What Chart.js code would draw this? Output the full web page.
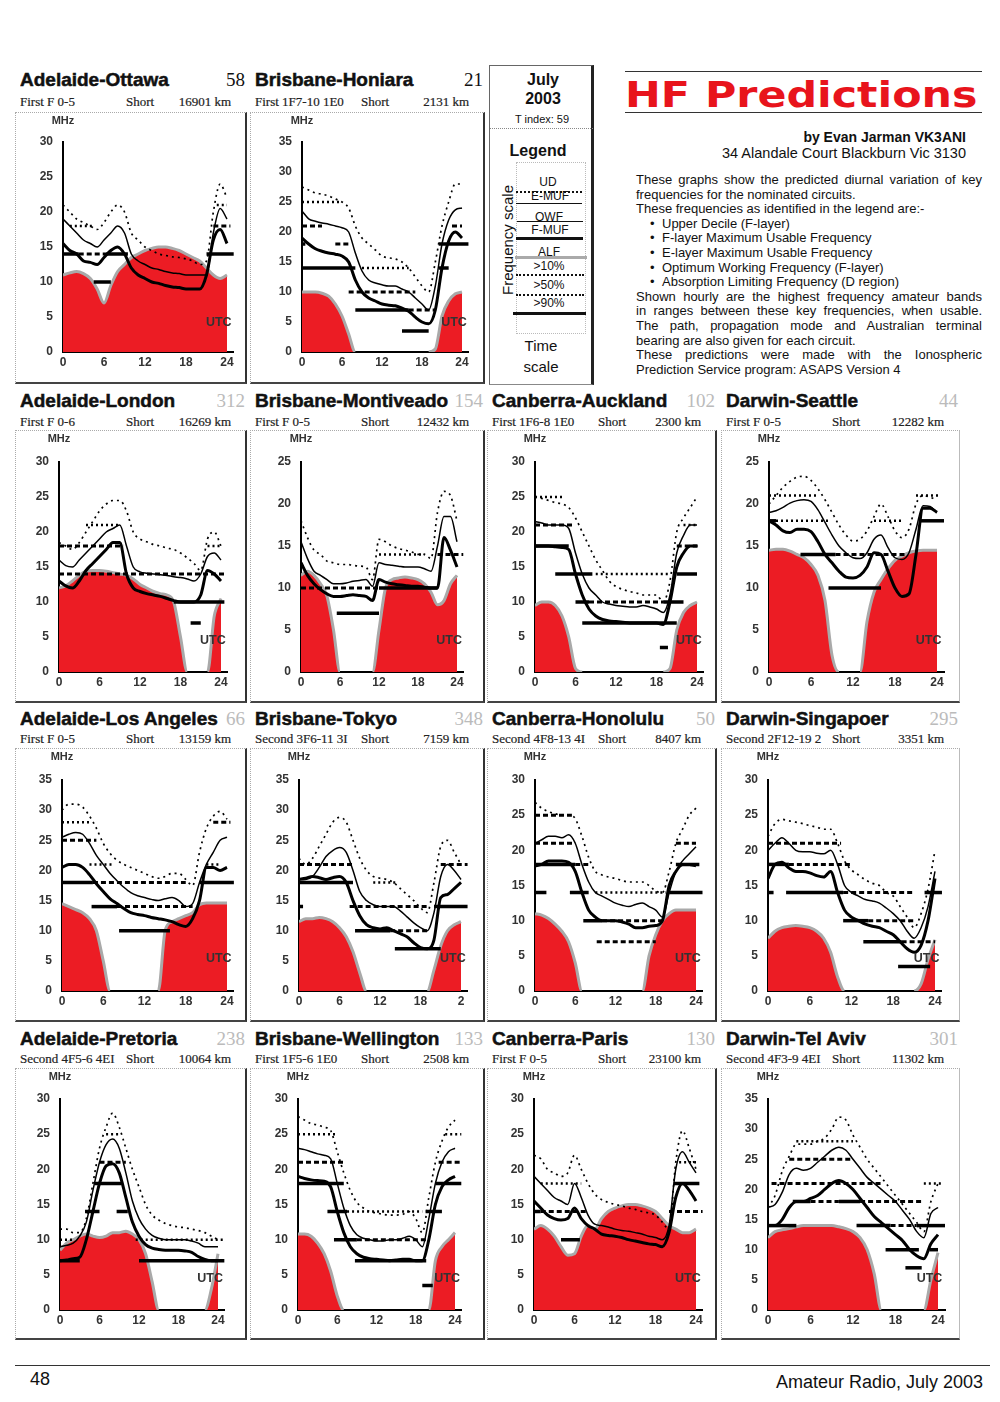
<!DOCTYPE html>
<html><head><meta charset="utf-8">
<script src="https://cdn.jsdelivr.net/npm/chart.js@4.4.1/dist/chart.umd.min.js"></script>
<style>
html,body{margin:0;padding:0;background:#fff;}
body{width:1000px;height:1402px;position:relative;overflow:hidden;font-family:"Liberation Sans",Arial,sans-serif;color:#111;}
.abs{position:absolute;white-space:nowrap;}
.title{font-weight:bold;font-size:19px;line-height:22px;height:22px;overflow:hidden;color:#111;-webkit-text-stroke:0.5px #111;}
.sub{font-family:"Liberation Serif","Times New Roman",serif;font-size:13px;line-height:15px;color:#222;-webkit-text-stroke:0.2px #222;}
.num{font-family:"Liberation Serif",serif;font-size:19px;line-height:22px;text-align:right;}
.box{box-sizing:border-box;border-left:1px dotted #aaa;border-top:1px dotted #aaa;border-right:2px solid #333;border-bottom:2px solid #444;pointer-events:none;z-index:3;}
.mhz{font-weight:bold;font-size:11px;line-height:12px;color:#333;transform:translateX(-50%);z-index:4;}
.utc{font-weight:bold;font-size:12.5px;line-height:14px;color:#333;transform:translate(-50%,-50%);z-index:4;}
.para{font-size:13px;line-height:14.6px;height:14.6px;width:346px;left:636px;color:#111;}
</style></head>
<body>
<script>
// ---------- category axis & ticks ----------
const HOURS = [0,1,2,3,4,5,6,7,8,9,10,11,12,13,14,15,16,17,18,19,20,21,22,23,24];
const X_TICKS = [0,6,12,18,24];
const X_TICK_LABELS = ['0','6','12','18','24'];
const X_TICK_LABELS_TOKYO = ['0','6','12','18','2'];

// ---------- Adelaide-Ottawa ----------
const AO_ALF = [11,11.3,11.5,11.2,10.5,9,7,9.5,11.5,12.5,13.5,14,14.5,14.8,15,15,14.8,14.5,14,13.5,13,12,11,10.5,11];
const AO_UD  = [21,20,19,18.5,18,17.5,18.5,20,21,20,17,16,15,14.5,14,13.8,13.6,13.5,13.3,13,12.5,13,20,24,22];
const AO_MUF = [19,18,17,16,15.5,15,16,17,18,17,14,13,12.5,12,11.8,11.5,11.3,11.2,11,11,11,11,17,20.5,19];
const AO_OWF = [15.5,14.5,14,13,12.8,12.5,13.5,14.5,15,14,12,11,10.5,10,9.8,9.5,9.3,9.2,9,9,9,11,16,17.5,15.5];
const AO_BANDS = [[14,0,2.3,'s'],[14,2.3,6.3,'d'],[14,6.3,9.5,'s'],[14,21,25,'s'],[10,4.5,7,'s'],[18,1,4.5,'o'],[18,22,24.5,'d'],[21,22.5,24,'o']];

// ---------- Brisbane-Honiara ----------
const BH_ALF = [10,10,10,9.8,9.3,8,6,3,0,0,0,0,0,0,0,0,0,0,0,0,0.5,6,8.5,9.7,10];
const BH_UD  = [27.5,27,26.5,26.3,26,25.5,25,24,21,19,18,17,16,15.7,15.5,15,14,12.5,11,10,15,21,25,28,28];
const BH_MUF = [23.5,22.2,21.8,21.5,21.3,21,20.7,20,16.5,13.5,12,11.5,11.2,11,11,10.5,10,9,8,7,11,18,22,23.7,24];
const BH_OWF = [19,18,17.2,16.8,16.5,16.3,16,15,12,10,9,8.5,8,7.8,7.7,7.3,6.8,5.8,5,4.7,7,14,18.5,20,19];
const BH_BANDS = [[25,0,6,'o'],[21,0,3,'d'],[21,22.5,24,'d'],[18,0,0.5,'s'],[18,5,7,'d'],[18,20.5,25,'s'],[14,0,8,'s'],[14,9,16,'o'],[14,20.5,22,'s'],[10,7,17,'d'],[7,8,16,'s'],[7,16,20,'d'],[3.5,15,19,'s']];

// ---------- Adelaide-London ----------
const AL_ALF = [12,12.3,13,13.8,14.4,14.5,14.5,14.4,14.2,14,13.8,13.3,12.5,12,11.5,11.2,11,10,5,0,0,0,0,8,10.5];
const AL_UD  = [18.5,18,17.5,18.5,20,21.5,23,24,24.5,24.5,23,20,19,18.6,18.2,18,17.7,17.5,17,16.3,15.5,14.5,19,20,18];
const AL_MUF = [16,15.2,15,16,17,18,19,20,20.5,21,18,15,14.3,14.1,14,13.9,13.8,13.6,13.5,13.3,13,14,16.5,17,16];
const AL_OWF = [13,12.3,12,13,14.5,15.5,16.5,17.5,18.5,18.5,14,12,11.5,11.2,11,10.8,10.5,10.2,10,10,10,11,14.5,14,13];
const AL_BANDS = [[21,4,9,'o'],[18,0,9.5,'d'],[18,22,24,'o'],[14,0,24.5,'d'],[10,17,24.5,'s'],[7,19.5,21,'s']];

// ---------- Brisbane-Montiveado ----------
const BM_ALF = [11.5,12,11.5,10.5,9,5,0,0,0,0,0,0,5,10,11,11.2,11.3,11.2,11,10.5,9.5,8,8.5,10.5,11.5];
const BM_UD  = [18,16,14.5,14,13.2,13,12.8,12.8,12.7,12.6,12.5,11,15.8,15.5,15,14.7,14.5,14.3,14,14,13.5,19,21.5,21,18];
const BM_MUF = [15.5,13.5,12,11.5,11,10.5,10.5,10.6,10.8,10.9,11,10.2,13,12.8,12.7,12.6,12.5,12.5,12.5,12.3,12,15,18.5,18.5,15.5];
const BM_OWF = [13,11.5,10.5,9.8,9.3,9,9,9.1,9.2,9.1,9,8.5,11,10.7,10.5,10.4,10.3,10.2,10.2,10.1,10,10,16,14.5,12.5];
const BM_BANDS = [[14,12,19,'o'],[14,21,25,'d'],[10,0,12,'d'],[10,12,21,'s'],[7,5.5,12,'s']];

// ---------- Canberra-Auckland ----------
const CA_ALF = [9.5,10,10,9.5,8,5,0.5,0,0,0,0,0,0,0,0,0,0,0,0,0,0.5,6,8.5,9.5,10];
const CA_UD  = [25,24.8,24.5,24.2,24,23.5,22,20,18,16,14.5,13,12.2,11.8,11.5,11.3,11,11,11,10,13,20,22,23.5,25];
const CA_MUF = [21.5,21.3,21,21,21,20.5,17,14,12,11,10,9.7,9.5,9.4,9.3,9.3,9.5,9.3,9,8.5,11,17,19.5,21,21];
const CA_OWF = [18,18,18,17.9,17.8,17.5,14,11,9,8,7.5,7.3,7.2,7.1,7,7,7,7,7,6.8,10,15,17,18,18];
const CA_BANDS = [[25,0,4,'o'],[21,0,5.5,'d'],[21,22,24,'o'],[18,0,5,'s'],[18,21,24.5,'d'],[14,3,8.5,'s'],[14,9,20,'o'],[14,21,24,'s'],[10,6,8,'s'],[10,8,19,'d'],[10,19,22,'s'],[7,7,21,'s'],[3.5,18.5,19.7,'s']];

// ---------- Darwin-Seattle ----------
const DS_ALF = [14.5,14.6,14.6,14.4,14,13.6,12.8,11.5,8.5,2,0,0,0,0,6,9.5,11,12.3,13.3,13.8,14.2,14.4,14.5,14.5,14.5];
const DS_UD  = [20,21,22,22.7,23.2,23.3,22.8,21.8,20.5,19,17.5,16.3,15.6,15.8,16.8,18.5,20,18.5,16.8,16,17,20,21,20.8,20.5];
const DS_MUF = [19,19.2,19.6,20.1,20.4,20.5,20.3,19.3,17.8,16.3,15,14.2,13.6,13.5,14.2,15.8,16.3,14.8,13.6,13.4,14.2,17,19.8,19.7,19];
const DS_OWF = [18,17.5,16.8,16.6,17,17,16.7,15.5,14,13,12,11.3,11.2,11.5,12.5,14.2,14,12,10,9,9.3,14,19.5,19.5,19];
const DS_BANDS = [[21,0,7,'o'],[21,21,24.5,'o'],[18,0,1,'s'],[18,1,8.5,'o'],[18,15,19,'o'],[18,21.5,25,'s'],[14,4.5,9.5,'s'],[14,9.5,19.5,'d'],[10,8.5,16,'s']];

// ---------- Adelaide-Los Angeles ----------
const LA_ALF = [14.5,14,13.5,13,12,10,5,0,0,0,0,0,0,0,0,10,11.5,12,12.5,13,14.3,14.6,14.6,14.6,14.6];
const LA_UD  = [30,31,31,30.5,29,27,24.5,22.8,21.7,21,20.5,20,19.5,19,18.7,19,19.5,19.5,18.5,17.5,23,27,29,29.8,28.5];
const LA_MUF = [25.5,26,26.3,26,24.5,22.5,21,19.5,18.3,17.2,16.3,15.8,15.5,15.2,15,15.3,15.5,15,14,14.5,18,21,23,25,25.5];
const LA_OWF = [20.5,21,21,20.5,19.3,17.8,16.5,15.3,14.5,13.7,13,12.7,12.5,12.2,12,11.8,11.5,11,10.7,12,15,20.5,20.5,20,20.5];
const LA_BANDS = [[28,0,4,'o'],[28,22,24.5,'d'],[25,0,5,'d'],[21,4,7.5,'o'],[21,21,23,'o'],[18,0,4.5,'s'],[18,4.5,18,'d'],[18,20,25,'s'],[14,4.3,8,'s'],[14,8,19,'d'],[10,8.3,15.7,'s']];

// ---------- Brisbane-Tokyo ----------
const BT_ALF = [11.5,12,12,12.2,12,11.5,10.5,9,6.5,3,0,0,0,0,0,0,0,0,0,0,3.5,7.5,10,11,11.5];
const BT_UD  = [22,21,22,24,26,28,28.8,28,25,22,20,19,18.7,18.5,18,17,16,15,13.8,13,18,24,25,23,21];
const BT_MUF = [18.5,18.5,19,20.5,22.3,23.3,23.8,23,20,16.5,15,14.3,14,14,14,13.3,12.3,11.3,10.5,10,13,19,21,20,18.5];
const BT_OWF = [18.5,18.7,19,18.8,18.5,18.8,19,18,15,12.5,11,10.5,10.3,10.5,10,9.5,9,8,7.2,7,8.5,15.5,16,17,18];
const BT_BANDS = [[21,0,8,'d'],[21,21,25,'d'],[18,0,8,'s'],[18,11,14.5,'o'],[14,0,0.6,'s'],[14,7.5,19,'d'],[14,20,25,'s'],[10,8.3,13.5,'s'],[10,13.5,19,'d'],[7,14.2,21,'s']];

// ---------- Canberra-Honolulu ----------
const CH_ALF = [11,10.8,10.3,9.5,8.5,7,4,0,0,0,0,0,0,0,0,0,0,5,8,10,11,11.5,11.5,11.5,11.5];
const CH_UD  = [26.8,26,25.5,25.2,25,25,24.5,22,19,17,16.5,16.2,16,15.7,15.5,15.5,15.5,15,14.2,14,17,21,23,25,26];
const CH_MUF = [21,21.5,22,22,21.8,22.2,21,18,15.5,14,13.5,13,12.5,12.2,12,12.3,12.5,12,11.5,10.5,14,17,18.5,19.5,20.5];
const CH_OWF = [17.8,18,18.5,18.5,18.5,18.3,17,14,11.5,10.5,10,10,10,9.8,9.5,9,9,9.2,9.3,10,15,17,18,18,17.8];
const CH_BANDS = [[25,0,5.5,'d'],[21,0,6,'d'],[21,21,24,'d'],[18,0,6,'s'],[18,6,8,'d'],[18,21,24.5,'s'],[14,0,1.7,'s'],[14,5.2,8,'s'],[14,9,19.5,'o'],[14,20,25,'s'],[10,7.2,10,'s'],[10,10,19,'d'],[7,9.2,18,'d']];

// ---------- Darwin-Singapoer ----------
const SG_ALF = [7.5,8.5,9,9.2,9.3,9.2,9,8.5,7.5,5.5,2,0,0,0,0,0,0,0,0,0,0,0,1,4.5,7.3];
const SG_UD  = [22,23.8,24.4,24.2,24,23.8,23.5,23.3,23,23,21,18.5,17.2,16.5,15.8,15.3,15,14,13.5,12,10.5,9,11,14.5,20];
const SG_MUF = [20,21,21.8,21,20,19.8,19.8,19.6,19.5,20,18,15,14,13.5,13,12.8,12.5,11.8,11,10,8.5,7.5,9,12,17];
const SG_OWF = [16,18,18.3,17.5,17,17,16.8,16.4,16.2,17,14,11.5,10.5,10,9.5,9.2,9,8.5,8,7,6,5.5,6.5,10,16];
const SG_BANDS = [[21,0,10.5,'d'],[18,0,3,'s'],[18,3,12,'d'],[14,0,0.8,'s'],[14,2.6,10.8,'s'],[14,10.8,21,'d'],[14,22.5,25,'s'],[10,10.8,14.4,'s'],[10,14.4,21,'d'],[7,13.7,19.2,'s'],[7,19.2,24,'d'],[3.5,18.7,23.3,'s']];

// ---------- Adelaide-Pretoria ----------
const AP_ALF = [8.5,9.5,10,10.5,10.8,10.5,10.3,10.5,11,11,11.2,10.8,10,8,4,0,0,0,0,0,0,0,0,3,8];
const AP_UD  = [11.5,11.5,11,11,13,18,23,26,28,26,23,20,17.5,15,13.5,12.8,12.3,12,11.8,11.7,11.5,11.3,11,10.5,10];
const AP_MUF = [9,9.2,9.5,10.5,12.5,17,21,23.5,24.3,23,19.5,15.5,13,11.5,10.6,10.2,10,10,10,10,9.8,9.5,9,9,9];
const AP_OWF = [7,7.1,7.3,7.5,10,14,18,20.5,20.8,19.5,16,12.5,10.5,9.3,8.8,8.6,8.5,8.5,8.5,8.4,8.2,7.6,7.2,7,7];
const AP_BANDS = [[25,7,9,'o'],[21,6,10,'d'],[18,5.3,9.3,'s'],[14,3.8,6,'s'],[14,8.6,10.3,'s'],[10,0,2,'o'],[10,11.5,25,'o'],[7,0,3,'s'],[7,12,25,'s']];

// ---------- Brisbane-Wellington ----------
const BW_ALF = [10.8,10.8,10.5,9.5,8,5.5,2,0,0,0,0,0,0,0,0,0,0,0,0,0,0,7,9,10,11];
const BW_UD  = [27.5,27,26.5,26.3,26,25.5,22.5,19.5,17,15.3,14.5,14,13.8,13.6,13.5,13.5,13.6,14,13,11,16,21,24,26,27];
const BW_MUF = [23,22.8,22.5,22.2,22,21.5,18,14.5,12,10.7,10.2,10,9.8,9.8,10,10,10.2,10.5,10,9,13,18,21,22.5,23];
const BW_OWF = [19,18.7,18.5,18.4,18.3,17.5,14,11,9,8,7.5,7.3,7.2,7.1,7,7.1,7.2,7.2,7,7,10,15,17.5,18.5,19];
const BW_BANDS = [[25,0,6,'o'],[25,22.5,25,'o'],[21,0,7,'d'],[21,21.5,25,'d'],[18,0,7,'s'],[18,21,25,'s'],[14,4.5,7.5,'s'],[14,7.5,19,'o'],[14,19.5,22,'s'],[10,5.5,9,'s'],[10,9,20,'d'],[7,8.7,19.6,'s'],[3.5,19,20.6,'s']];

// ---------- Canberra-Paris ----------
const CP_ALF = [11.5,12,11.5,10.5,9,7.8,8,10.5,12,11.5,13,14,14.5,14.8,15,15,14.8,14.5,14,13,12,11.5,11,11,11.5];
const CP_UD  = [22,21.5,20,19.5,19,19.5,22,20,18,16.5,15.7,15.3,15,14.8,14.5,14.3,14,13.8,13.5,12.5,11.5,21,25.5,23,20];
const CP_MUF = [19,18,17,16,15.5,15,18,16,13.5,12.2,12,11.8,11.5,11.3,11.2,11,10.8,10.5,10.3,10,12,20,22.5,21,19.5];
const CP_OWF = [15.5,14.5,13.5,13,12.8,13,14.5,13,12,11.5,10.8,10.6,10.5,10.3,10,9.8,9.6,9.4,9.3,9,11,16,18,17,15.5];
const CP_BANDS = [[21,21.5,24,'o'],[18,1,7,'o'],[18,20.7,24.5,'s'],[14,0,1,'s'],[14,1,8,'d'],[14,20,25,'d'],[10,4,6.8,'s']];

// ---------- Darwin-Tel Aviv ----------
const TA_ALF = [12,13,13.3,13.5,13.8,14,14,14,14,14,13.8,13.5,13,12,10,6,0,0,0,0,0,0,0,5,9.5];
const TA_UD  = [17,19,23,25.5,27.5,27.5,27.5,28,28.5,30,32,31.5,29,27,25,23.5,22,20.5,19,17.5,16,14.5,13,18,21];
const TA_MUF = [17,17.5,19.5,22.5,23.5,23.2,23.5,24.5,25.5,26.5,27,26.5,25,23.5,22,21,20,19,18,16.5,15,13,12,16,17];
const TA_OWF = [14,14,15,17,18,18,18.5,19,20,21,21.5,21,20,18.5,17,15.5,14.5,13.5,12.5,11.5,10,9,8.5,11,12.5];
const TA_BANDS = [[28,4,12,'o'],[25,3,12,'d'],[21,0.5,16,'d'],[21,22,24.5,'o'],[18,3.5,6,'s'],[18,6,10,'d'],[18,10,13,'s'],[18,13,22,'d'],[14,0,4,'s'],[14,12.5,17.3,'s'],[14,17.3,21,'d'],[14,21,25,'s'],[10,16.6,21.3,'s'],[10,22.8,24,'s'],[7,19.4,21.7,'s']];

// ---------- panel text ----------
const TITLES = ['Adelaide-Ottawa','Brisbane-Honiara','Adelaide-London','Brisbane-Montiveado','Canberra-Auckland','Darwin-Seattle','Adelaide-Los Angeles','Brisbane-Tokyo','Canberra-Honolulu','Darwin-Singapoer','Adelaide-Pretoria','Brisbane-Wellington','Canberra-Paris','Darwin-Tel Aviv'];
const MODES = ['First F 0-5','First 1F7-10 1E0','First F 0-6','First F 0-5','First 1F6-8 1E0','First F 0-5','First F 0-5','Second 3F6-11 3I','Second 4F8-13 4I','Second 2F12-19 2','Second 4F5-6 4EI','First 1F5-6 1E0','First F 0-5','Second 4F3-9 4EI'];
const DISTANCES = ['16901 km','2131 km','16269 km','12432 km','2300 km','12282 km','13159 km','7159 km','8407 km','3351 km','10064 km','2508 km','23100 km','11302 km'];
const BEARINGS = ['58','21','312','154','102','44','66','348','50','295','238','133','130','301'];
const Y_MAX = [30,35,30,25,30,25,35,35,30,30,30,30,30,35];
const SERIES = [
  [AO_ALF,AO_UD,AO_MUF,AO_OWF,AO_BANDS],[BH_ALF,BH_UD,BH_MUF,BH_OWF,BH_BANDS],
  [AL_ALF,AL_UD,AL_MUF,AL_OWF,AL_BANDS],[BM_ALF,BM_UD,BM_MUF,BM_OWF,BM_BANDS],
  [CA_ALF,CA_UD,CA_MUF,CA_OWF,CA_BANDS],[DS_ALF,DS_UD,DS_MUF,DS_OWF,DS_BANDS],
  [LA_ALF,LA_UD,LA_MUF,LA_OWF,LA_BANDS],[BT_ALF,BT_UD,BT_MUF,BT_OWF,BT_BANDS],
  [CH_ALF,CH_UD,CH_MUF,CH_OWF,CH_BANDS],[SG_ALF,SG_UD,SG_MUF,SG_OWF,SG_BANDS],
  [AP_ALF,AP_UD,AP_MUF,AP_OWF,AP_BANDS],[BW_ALF,BW_UD,BW_MUF,BW_OWF,BW_BANDS],
  [CP_ALF,CP_UD,CP_MUF,CP_OWF,CP_BANDS],[TA_ALF,TA_UD,TA_MUF,TA_OWF,TA_BANDS]
];

// ---------- layout (positions only) ----------
const COL_LEFT = [15,250,487,721], COL_W = [232,235,230,239];
const ROW_TOP = [112,430,748,1068], BOX_H = [272,273,274,272];
const TITLE_Y = [80,401,719,1039], SUB_Y = [101,421,738,1058];
const PLOT_TOP = [30,32,32,31], PLOT_BOT = [240,242,243,242];
const PANEL_POS = [[0,0],[0,1],[1,0],[1,1],[1,2],[1,3],[2,0],[2,1],[2,2],[2,3],[3,0],[3,1],[3,2],[3,3]];
const AXIS_X = [63,302,59,301,535,769,62,299,535,768,60,298,534,768];
const X24 = [227,462,221,457,697,937,227,461,696,935,218,455,696,938];
const X_MAX = 25;

function el(tag, cls, style, text){
  const e = document.createElement(tag);
  if (cls) e.className = cls;
  Object.assign(e.style, style);
  if (text !== undefined) e.textContent = text;
  document.body.appendChild(e);
  return e;
}
const px = v => v + 'px';
const toPts = arr => HOURS.map((h,k) => ({x:h, y:arr[k]}));
const BAND_STYLE = {s:{w:3.5,dash:[]}, d:{w:3,dash:[5,3]}, o:{w:2.5,dash:[2,3]}};

function buildPanel(i){
  const [row,col] = PANEL_POS[i];
  const left = COL_LEFT[col], top = ROW_TOP[row], w = COL_W[col], h = BOX_H[row];
  const axisX = AXIS_X[i], x24 = X24[i];
  const yAxisW = axisX - left;
  const areaW = (x24 - axisX) * X_MAX / 24;
  const padR = w - yAxisW - areaW;
  const xAxisH = 20;
  const padB = h - PLOT_BOT[row] - xAxisH;

  // headings
  el('div','abs title',{left:px(left+5), top:px(TITLE_Y[row]-11), width:px(w-33)}, TITLES[i]);
  el('div','abs num',{left:px(left+w-60), width:px(58), top:px(TITLE_Y[row]-11), color: i<2 ? '#111' : '#bbb'}, BEARINGS[i]);
  el('div','abs sub',{left:px(left+5), top:px(SUB_Y[row]-7.5), width:px(104), overflow:'hidden'}, MODES[i]);
  el('div','abs sub',{left:px(left+111), top:px(SUB_Y[row]-7.5)}, 'Short');
  el('div','abs sub',{left:px(left+w-120), width:px(104), textAlign:'right', top:px(SUB_Y[row]-7.5)}, DISTANCES[i]);

  const cv = document.createElement('canvas');
  cv.width = w; cv.height = h;
  Object.assign(cv.style,{position:'absolute', left:px(left), top:px(top), width:px(w), height:px(h)});
  document.body.appendChild(cv);
  const bx = el('div','abs box',{left:px(left), top:px(top), width:px(w), height:px(h)});
  if (col === 3) bx.style.borderRight = '1px solid #bbb';
  el('div','abs mhz',{left:px(axisX), top:px(top+2)}, 'MHz');
  el('div','abs utc',{left:px(axisX + (x24-axisX)*22.8/24), top:px(top+210)}, 'UTC');

  const [alf, ud, muf, owf, bands] = SERIES[i];
  const datasets = [
    {data:toPts(ud), borderColor:'#000', borderWidth:1.7, borderDash:[2,4], order:1},
    {data:toPts(muf), borderColor:'#000', borderWidth:1.5, order:1},
    {data:toPts(owf), borderColor:'#000', borderWidth:3, order:1},
    {data:toPts(alf), borderColor:'#a9a9a9', borderWidth:3, backgroundColor:'#ec1c24', fill:'origin', order:10,
     segment:{borderColor: ctx => (ctx.p0.parsed.y === 0 && ctx.p1.parsed.y === 0) ? 'rgba(0,0,0,0)' : undefined}}
  ];
  bands.forEach(b => {
    const st = BAND_STYLE[b[3]];
    datasets.push({data:[{x:b[1],y:b[0]},{x:b[2],y:b[0]}], borderColor:'#000', borderWidth:st.w, borderDash:st.dash, tension:0, order:2});
  });
  const labels = i === 7 ? X_TICK_LABELS_TOKYO : X_TICK_LABELS;
  const tickFont = {family:'"Liberation Sans", Arial, sans-serif', size:12, weight:'bold'};
  new Chart(cv, {
    type:'line',
    data:{datasets},
    options:{
      responsive:false, animation:false, devicePixelRatio:1,
      events:[],
      layout:{padding:{left:0, right:padR, top:PLOT_TOP[row], bottom:padB}},
      elements:{point:{radius:0}, line:{cubicInterpolationMode:'monotone', fill:false}},
      plugins:{legend:{display:false}, tooltip:{enabled:false}},
      scales:{
        x:{type:'linear', min:0, max:X_MAX,
           afterBuildTicks: s => { s.ticks = X_TICKS.map(v => ({value:v})); },
           afterFit: s => { s.height = xAxisH; },
           ticks:{autoSkip:false, maxRotation:0, padding:3, color:'#333', font:tickFont,
                  callback:(v,idx) => labels[idx]},
           grid:{display:false, drawTicks:false},
           border:{display:true, color:'#000', width:2}},
        y:{min:0, max:Y_MAX[i],
           afterFit: s => { s.width = yAxisW; },
           ticks:{stepSize:5, padding:10, color:'#333', font:tickFont},
           grid:{display:false, drawTicks:false},
           border:{display:true, color:'#000', width:2}}
      }
    }
  });
}
for (let i = 0; i < TITLES.length; i++) buildPanel(i);

// ---------- legend box ----------
el('div','abs',{left:'489px', top:'65px', width:'105px', height:'320px', boxSizing:'border-box', borderLeft:'1px solid #666', borderTop:'1px solid #666', borderRight:'3px solid #222', borderBottom:'1px solid #888'});
el('div','abs',{left:'490px', top:'128px', width:'103px', borderTop:'1px dotted #888'});
const cbox = (txt, x, y, style) => el('div','abs',Object.assign({left:px(x), top:px(y), transform:'translate(-50%,-50%)'}, style), txt);
cbox('July', 543, 80, {font:'bold 16px "Liberation Sans", Arial'});
cbox('2003', 543, 99, {font:'bold 16px "Liberation Sans", Arial'});
cbox('T index: 59', 542, 119, {font:'11px "Liberation Sans", Arial'});
cbox('Legend', 538, 151, {font:'bold 16px "Liberation Sans", Arial'});
el('div','abs',{left:'516px', top:'162px', width:'68px', height:'170px', border:'1px dotted #bbb'});
cbox('Frequency scale', 507, 240, {font:'15px "Liberation Sans", Arial', transform:'translate(-50%,-50%) rotate(-90deg)'});
cbox('UD', 548, 182, {font:'12px "Liberation Sans", Arial'});
el('div','abs',{left:'516px', top:'191px', width:'66px', borderTop:'2px dotted #111'});
cbox('E-MUF', 550, 196, {font:'12px "Liberation Sans", Arial'});
el('div','abs',{left:'516px', top:'203px', width:'66px', borderTop:'1.5px solid #111'});
cbox('OWF', 549, 217, {font:'12px "Liberation Sans", Arial'});
el('div','abs',{left:'517px', top:'221px', width:'66px', borderTop:'1.5px solid #111'});
cbox('F-MUF', 550, 230, {font:'12px "Liberation Sans", Arial'});
el('div','abs',{left:'516px', top:'237px', width:'67px', borderTop:'3px solid #111'});
cbox('ALF', 549, 252, {font:'12px "Liberation Sans", Arial'});
el('div','abs',{left:'515px', top:'256px', width:'72px', borderTop:'3px solid #aaa'});
cbox('>10%', 549, 266, {font:'12px "Liberation Sans", Arial'});
el('div','abs',{left:'516px', top:'274px', width:'68px', borderTop:'2.5px dotted #111'});
cbox('>50%', 549, 285, {font:'12px "Liberation Sans", Arial'});
el('div','abs',{left:'516px', top:'294px', width:'68px', borderTop:'2.5px dotted #111'});
cbox('>90%', 549, 303, {font:'12px "Liberation Sans", Arial'});
el('div','abs',{left:'513px', top:'312px', width:'73px', borderTop:'3px solid #111'});
cbox('Time', 541, 345, {font:'15px "Liberation Sans", Arial'});
cbox('scale', 541, 366, {font:'15px "Liberation Sans", Arial'});

// ---------- header & description ----------
el('div','abs',{left:'625px', top:'71px', width:'357px', borderTop:'1.5px solid #333'});
el('div','abs',{left:'625px', top:'112px', width:'357px', borderTop:'1.5px solid #333'});
const hf = el('div','abs',{left:'625px', top:'74px', font:'bold 36px "DejaVu Sans", sans-serif', lineHeight:'42px', color:'#e8141c', transformOrigin:'0 0'}, 'HF Predictions');
hf.style.transform = 'scaleX(' + (353 / hf.offsetWidth) + ')';
el('div','abs',{left:'600px', width:'366px', textAlign:'right', top:'129px', font:'bold 14px "Liberation Sans", Arial', lineHeight:'16px'}, 'by Evan Jarman VK3ANI');
el('div','abs',{left:'600px', width:'366px', textAlign:'right', top:'145px', font:'14.5px "Liberation Sans", Arial', lineHeight:'16px'}, '34 Alandale Court Blackburn Vic 3130');
const PARA = [
  ['These graphs show the predicted diurnal variation of key', true, 0],
  ['frequencies for the nominated circuits.', false, 0],
  ['These frequencies as identified in the legend are:-', false, 0],
  ['Upper Decile (F-layer)', false, 1],
  ['F-layer Maximum Usable Frequency', false, 1],
  ['E-layer Maximum Usable Frequency', false, 1],
  ['Optimum Working Frequency (F-layer)', false, 1],
  ['Absorption Limiting Frequency (D region)', false, 1],
  ['Shown hourly are the highest frequency amateur bands', true, 0],
  ['in ranges between these key frequencies, when usable.', true, 0],
  ['The path, propagation mode and Australian terminal', true, 0],
  ['bearing are also given for each circuit.', false, 0],
  ['These predictions were made with the Ionospheric', true, 0],
  ['Prediction Service program: ASAPS Version 4', false, 0]
];
PARA.forEach((p, k) => {
  const y = 173 + k * 14.6;
  if (p[2]) {
    el('div','abs para',{top:px(y), left:'650px', width:'10px'}, '\u2022');
    el('div','abs para',{top:px(y), left:'662px', width:'320px'}, p[0]);
  } else {
    el('div','abs para',{top:px(y), textAlign: p[1] ? 'justify' : 'left', textAlignLast: p[1] ? 'justify' : 'auto', whiteSpace:'normal'}, p[0]);
  }
});

// ---------- footer ----------
el('div','abs',{left:'15px', top:'1365px', width:'975px', borderTop:'1px solid #333'});
el('div','abs',{left:'30px', top:'1369px', font:'18px "Liberation Sans", Arial', lineHeight:'20px'}, '48');
el('div','abs',{left:'600px', width:'383px', textAlign:'right', top:'1372px', font:'18px "Liberation Sans", Arial', lineHeight:'20px'}, 'Amateur Radio, July 2003');
</script>
</body></html>
